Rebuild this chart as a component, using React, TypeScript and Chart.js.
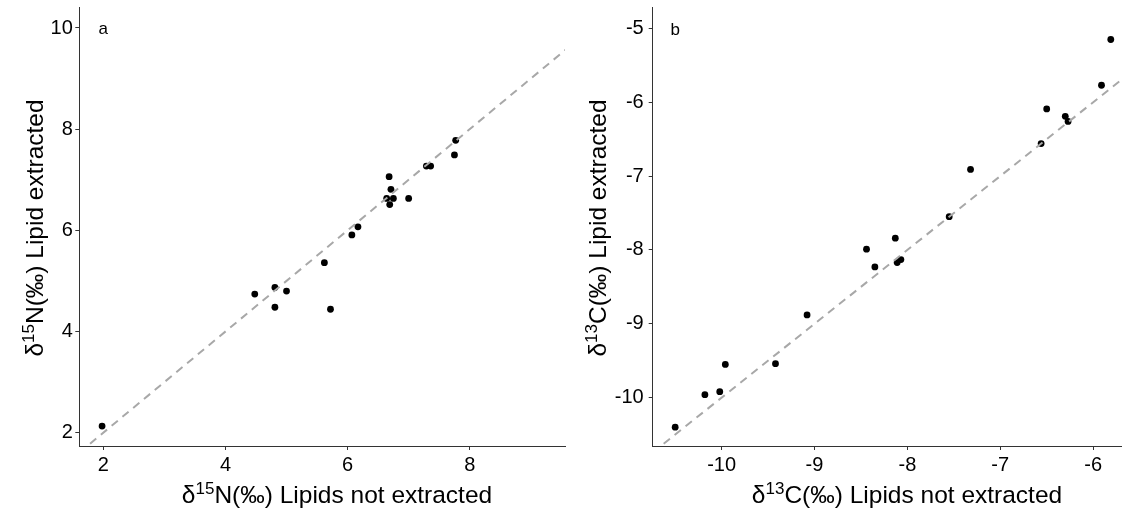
import React, { useEffect, useRef } from "react";
import { Chart, registerables } from "chart.js";

Chart.register(...registerables);

const FONT = "'Liberation Sans', Arial, sans-serif";

// Panel a: δ15N, lipids not extracted (x) against lipid extracted (y)
const nitrogenNotExtracted = [1.98, 4.48, 4.81, 4.81, 5.0, 5.62, 5.72, 6.07, 6.17, 6.68, 6.71, 6.64, 6.75, 6.69, 7.0, 7.29, 7.36, 7.75, 7.77];
const nitrogenExtracted = [2.13, 4.74, 4.87, 4.48, 4.8, 5.36, 4.44, 5.91, 6.07, 7.06, 6.81, 6.63, 6.63, 6.51, 6.63, 7.27, 7.27, 7.49, 7.78];
const nitrogenTicksX = [2, 4, 6, 8];
const nitrogenTicksY = [2, 4, 6, 8, 10];
const nitrogenRangeX = [1.607, 9.56];
const nitrogenRangeY = [1.737, 10.415];

// Panel b: δ13C, lipids not extracted (x) against lipid extracted (y)
const carbonNotExtracted = [-10.5, -10.18, -10.02, -9.96, -9.42, -9.08, -8.44, -8.35, -8.13, -8.11, -8.07, -7.55, -7.32, -6.56, -6.5, -6.3, -6.27, -5.91, -5.81];
const carbonExtracted = [-10.4, -9.96, -9.92, -9.55, -9.54, -8.88, -7.99, -8.23, -7.84, -8.17, -8.13, -7.55, -6.91, -6.56, -6.09, -6.19, -6.26, -5.77, -5.15];
const carbonTicksX = [-10, -9, -8, -7, -6];
const carbonTicksY = [-10, -9, -8, -7, -6, -5];
const carbonRangeX = [-10.742, -5.7];
const carbonRangeY = [-10.655, -4.71];

type Seg = { text: string; size: number; rise: number };

const isotopeTitle = (mass: string, element: string, rest: string): Seg[] => [
  { text: "δ", size: 24.5, rise: 0 },
  { text: mass, size: 17, rise: 9 },
  { text: `${element}(‰) ${rest}`, size: 24.5, rise: 0 },
];

// Draws a run of differently sized text pieces centred on (x, baseline y)
function drawRich(ctx: CanvasRenderingContext2D, segs: Seg[], x: number, y: number, vertical: boolean) {
  ctx.save();
  const widths = segs.map((s) => {
    ctx.font = `${s.size}px ${FONT}`;
    return ctx.measureText(s.text).width;
  });
  const total = widths.reduce((a, b) => a + b, 0);
  ctx.translate(x, y);
  if (vertical) ctx.rotate(-Math.PI / 2);
  ctx.fillStyle = "#000";
  ctx.textBaseline = "alphabetic";
  ctx.textAlign = "left";
  let pos = -total / 2;
  segs.forEach((s, i) => {
    ctx.font = `${s.size}px ${FONT}`;
    ctx.fillText(s.text, pos, -s.rise);
    pos += widths[i];
  });
  ctx.restore();
}

type PanelSpec = {
  xs: number[];
  ys: number[];
  ticksX: number[];
  ticksY: number[];
  rangeX: number[];
  rangeY: number[];
  letter: string;
  letterAt: number[];
  xTitle: Seg[];
  yTitle: Seg[];
  xTitlePos: number[];
  yTitlePos: number[];
  axisWidth: number;
  yLabelGap: number;
};

function makeChart(canvas: HTMLCanvasElement, p: PanelSpec) {
  const lo = Math.min(p.rangeX[0], p.rangeY[0]);
  const hi = Math.max(p.rangeX[1], p.rangeY[1]);
  const decor = {
    id: "panelDecor",
    afterDraw(chart: any) {
      const ctx = chart.ctx as CanvasRenderingContext2D;
      const sx = chart.scales.x;
      const sy = chart.scales.y;
      ctx.save();
      ctx.font = `17px ${FONT}`;
      ctx.fillStyle = "#000";
      ctx.textAlign = "center";
      ctx.textBaseline = "alphabetic";
      ctx.fillText(p.letter, sx.getPixelForValue(p.letterAt[0]), sy.getPixelForValue(p.letterAt[1]) + 6.5);
      ctx.restore();
      drawRich(ctx, p.xTitle, p.xTitlePos[0], p.xTitlePos[1], false);
      drawRich(ctx, p.yTitle, p.yTitlePos[0], p.yTitlePos[1], true);
    },
  };
  const axisCommon = {
    type: "linear" as const,
    grid: { display: true, drawOnChartArea: false, drawTicks: true, tickLength: 4, color: "#333", lineWidth: 1 },
    border: { display: true, color: "#333", width: 1 },
    title: { display: false },
  };
  return new Chart(canvas, {
    type: "scatter",
    data: {
      datasets: [
        {
          // 1:1 reference line across the panel
          data: [
            { x: lo, y: lo },
            { x: hi, y: hi },
          ],
          showLine: true,
          borderColor: "#a8a8a8",
          borderWidth: 2,
          borderDash: [8, 6],
          pointRadius: 0,
        },
        {
          data: p.xs.map((x, i) => ({ x, y: p.ys[i] })),
          backgroundColor: "#000",
          borderWidth: 0,
          pointRadius: 3.4,
        },
      ],
    },
    options: {
      responsive: false,
      animation: false,
      events: [],
      layout: { padding: { left: 0, top: 7, right: 5, bottom: 0 } },
      plugins: { legend: { display: false }, tooltip: { enabled: false } },
      scales: {
        x: {
          ...axisCommon,
          min: p.rangeX[0],
          max: p.rangeX[1],
          afterBuildTicks: (s: any) => {
            s.ticks = p.ticksX.map((v) => ({ value: v }));
          },
          afterFit: (s: any) => {
            s.height = 67;
            s.paddingLeft = 0;
            s.paddingRight = 0;
          },
          ticks: { color: "#000", font: { family: FONT, size: 20 }, padding: 3, maxRotation: 0, autoSkip: false },
        },
        y: {
          ...axisCommon,
          min: p.rangeY[0],
          max: p.rangeY[1],
          afterBuildTicks: (s: any) => {
            s.ticks = p.ticksY.map((v) => ({ value: v }));
          },
          afterFit: (s: any) => {
            s.width = p.axisWidth;
            s.paddingTop = 0;
            s.paddingBottom = 0;
          },
          ticks: { color: "#000", font: { family: FONT, size: 20 }, padding: p.yLabelGap, autoSkip: false },
        },
      },
    },
    plugins: [decor],
  });
}

export default function App() {
  const refA = useRef<HTMLCanvasElement>(null);
  const refB = useRef<HTMLCanvasElement>(null);

  useEffect(() => {
    const a = makeChart(refA.current!, {
      xs: nitrogenNotExtracted,
      ys: nitrogenExtracted,
      ticksX: nitrogenTicksX,
      ticksY: nitrogenTicksY,
      rangeX: nitrogenRangeX,
      rangeY: nitrogenRangeY,
      letter: "a",
      letterAt: [2, 10],
      xTitle: isotopeTitle("15", "N", "Lipids not extracted"),
      yTitle: isotopeTitle("15", "N", "Lipid extracted"),
      xTitlePos: [337, 503],
      yTitlePos: [43, 228],
      axisWidth: 79.3,
      yLabelGap: 2.5,
    });
    const b = makeChart(refB.current!, {
      xs: carbonNotExtracted,
      ys: carbonExtracted,
      ticksX: carbonTicksX,
      ticksY: carbonTicksY,
      rangeX: carbonRangeX,
      rangeY: carbonRangeY,
      letter: "b",
      letterAt: [-10.5, -5],
      xTitle: isotopeTitle("13", "C", "Lipids not extracted"),
      yTitle: isotopeTitle("13", "C", "Lipid extracted"),
      xTitlePos: [327, 503],
      yTitlePos: [26, 228],
      axisWidth: 72.7,
      yLabelGap: 5,
    });
    return () => {
      a.destroy();
      b.destroy();
    };
  }, []);

  return (
    <div style={{ position: "fixed", left: 0, top: 0, width: 1126, height: 513, background: "#fff" }}>
      <canvas ref={refA} width={570} height={513} style={{ position: "absolute", left: 0, top: 0, width: 570, height: 513 }} />
      <canvas ref={refB} width={546} height={513} style={{ position: "absolute", left: 580, top: 0, width: 546, height: 513 }} />
    </div>
  );
}
